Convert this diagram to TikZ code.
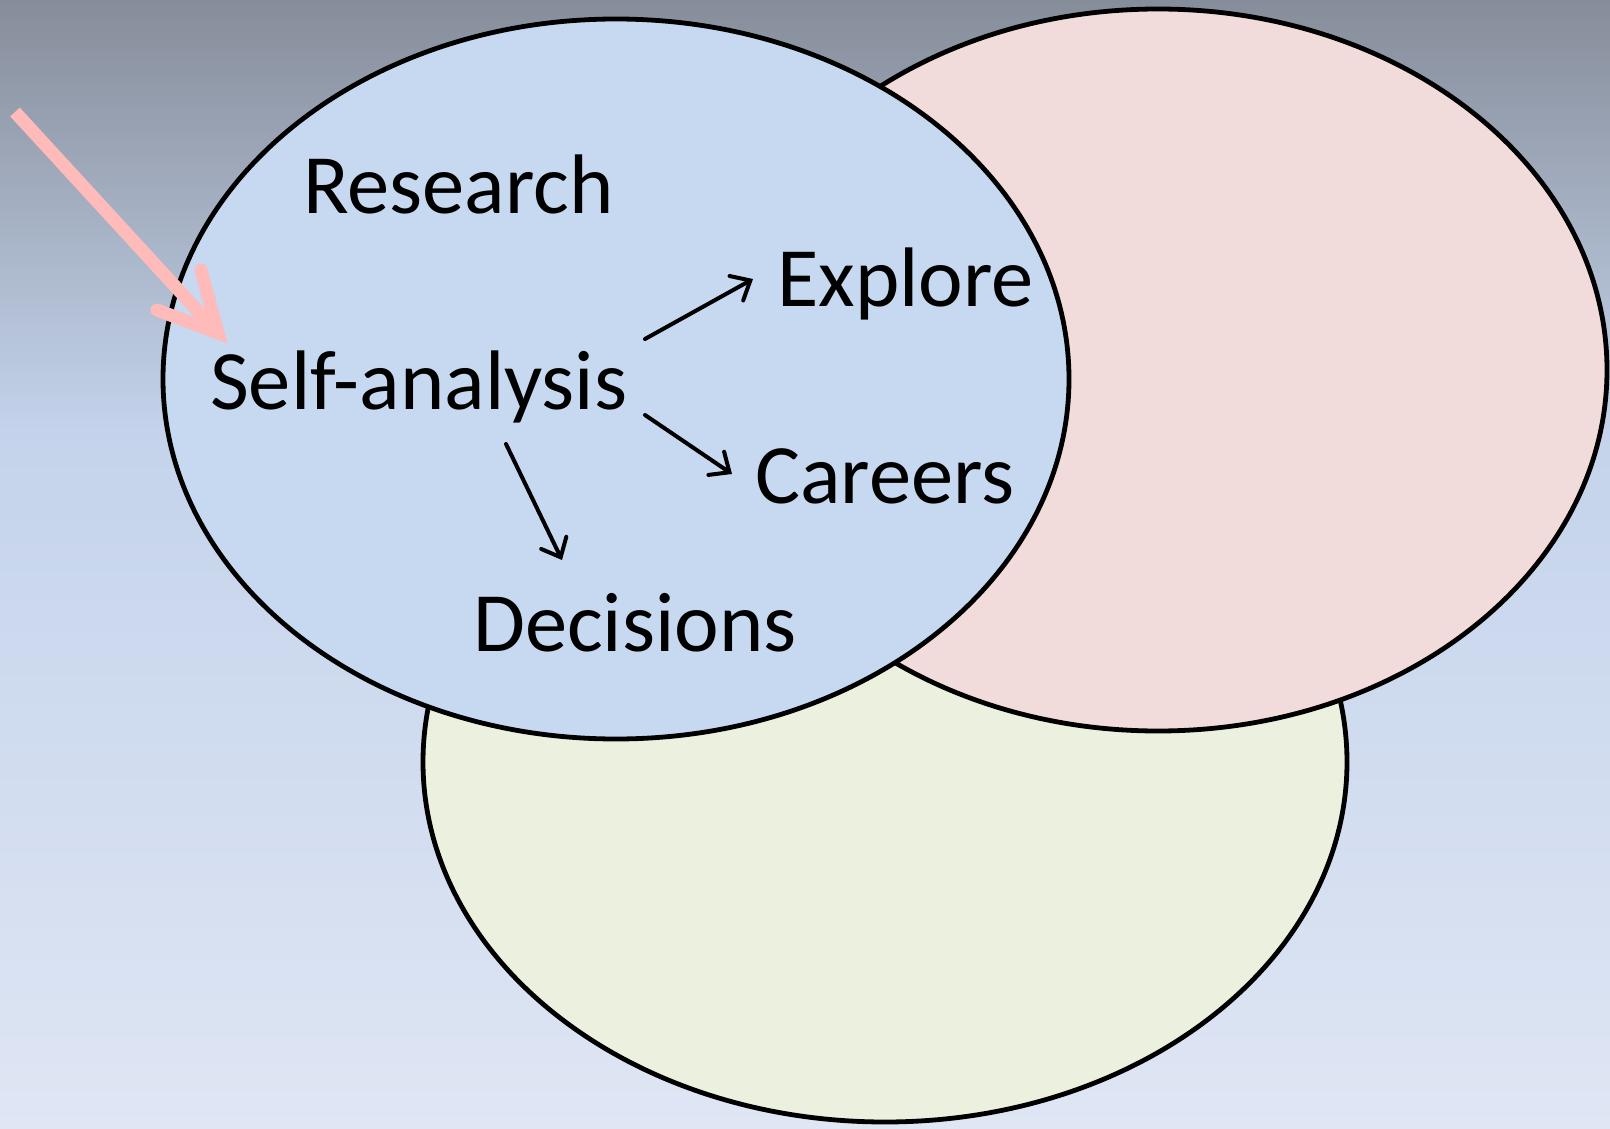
\documentclass[tikz,border=0pt]{standalone}
\usepackage{fontspec}
\setmainfont{Carlito}
\usetikzlibrary{arrows.meta}
\definecolor{bgtop}{HTML}{868D9A}
\definecolor{bgmid}{HTML}{C4D3EB}
\definecolor{bgbot}{HTML}{DFE6F4}
\definecolor{blueF}{HTML}{C6D9F1}
\definecolor{pinkF}{HTML}{F2DCDB}
\definecolor{greenF}{HTML}{EBF1DE}
\definecolor{pinkA}{HTML}{FFBABA}
\tikzset{
  venn/.style={draw=black, line width=4.8pt},
  lbl/.style={anchor=base west, inner sep=0pt, font=\fontsize{84.5}{100}\selectfont},
  conn/.style={draw=black, line width=4pt, line cap=round, -{Straight Barb[length=16pt,width=28pt,line width=4pt,line cap=round]}},
  pointer/.style={draw=pinkA, line width=13pt}
}
\begin{document}
\begin{tikzpicture}[x=1pt,y=-1pt]
\useasboundingbox (0,0) rectangle (1610,1129);
\shade[top color=bgtop, bottom color=bgmid] (0,0) rectangle (1610,430);
\shade[top color=bgmid, bottom color=bgbot] (0,429) rectangle (1610,1129);
% ellipses
\path[venn, fill=greenF] (885,762) ellipse [x radius=462, y radius=360];
\path[venn, fill=pinkF] (1158,370) ellipse [x radius=449, y radius=361];
\path[venn, fill=blueF] (616,379) ellipse [x radius=453, y radius=360];
% labels
\node[lbl] (research) at (303,213) {Research};
\node[lbl] (self) at (210,409) {Self-analysis};
\node[lbl] (explore) at (777,306) {Explore};
\node[lbl] (careers) at (755,503) {Careers};
\node[lbl] (decisions) at (473,651) {Decisions};
% connectors
\coordinate (s1) at (645,339); \coordinate (t1) at (753,279);
\coordinate (s2) at (645,415); \coordinate (t2) at (732,474);
\coordinate (s3) at (506,444); \coordinate (t3) at (562,560);
\draw[conn] (s1) -- (t1);
\draw[conn] (s2) -- (t2);
\draw[conn] (s3) -- (t3);
% pink pointer
\coordinate (pstart) at (15,112);
\coordinate (ptip) at (218,333);
\coordinate (parm1) at (201,270);
\coordinate (parm2) at (157,310);
\draw[pointer, line cap=butt] (pstart) -- (ptip);
\draw[pointer, line cap=round, line join=miter] (parm1) -- (ptip) -- (parm2);
\end{tikzpicture}
\end{document}
